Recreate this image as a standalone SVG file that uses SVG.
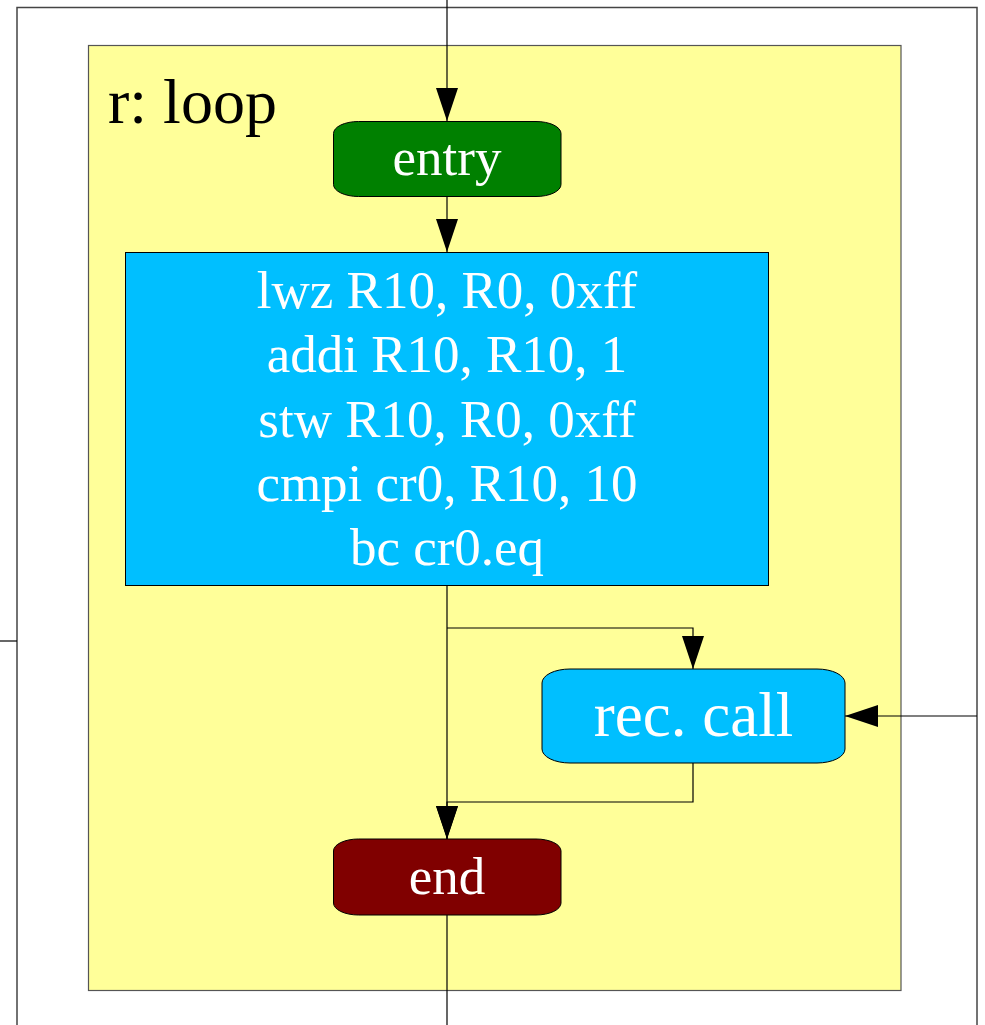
<svg xmlns="http://www.w3.org/2000/svg" width="985" height="1025" viewBox="0 0 985 1025">
<style>
.t{font-family:"Liberation Serif","Times New Roman",serif;text-anchor:middle;fill:#fff}
.e{fill:none;stroke:#000;stroke-width:1.2}
.n{stroke:#000;stroke-width:1}
</style>
<defs>
<marker id="ah" markerUnits="userSpaceOnUse" markerWidth="34" markerHeight="22" refX="33" refY="11" orient="auto" viewBox="0 0 34 22">
<path d="M0,0 L33,11 L0,22 Z" fill="#000"/>
</marker>
</defs>
<rect width="985" height="1025" fill="#fff"/>
<g id="outer">
<rect x="17" y="7.5" width="960" height="1100" fill="none" stroke="#444" stroke-width="1.5"/>
</g>
<g id="cluster_loop">
<rect x="88.5" y="45.5" width="812.5" height="945" fill="#ffff99" stroke="#555" stroke-width="1.2"/>
<text x="108" y="123" style="font-family:'Liberation Serif','Times New Roman',serif;font-size:64px;fill:#000">r: loop</text>
</g>
<g id="connectors">
<path class="e" d="M447,0 L447,121" marker-end="url(#ah)"/>
<path class="e" d="M447,197 L447,252" marker-end="url(#ah)"/>
<path class="e" d="M447,585 L447,839" marker-end="url(#ah)"/>
<path class="e" d="M447,628 L693,628 L693,669" marker-end="url(#ah)"/>
<path class="e" d="M693,763 L693,802 L447,802 L447,839" marker-end="url(#ah)"/>
<path class="e" d="M977,716 L845,716" marker-end="url(#ah)"/>
<path class="e" d="M0,641 L17,641"/>
<path class="e" d="M447,915 L447,1025"/>
</g>
<g id="entry">
<rect class="n" x="333.5" y="121.5" width="227.5" height="75" rx="25" ry="12" fill="#008000"/>
<text class="t" x="447" y="175" font-size="53">entry</text>
</g>
<g id="block">
<rect class="n" x="125.5" y="252.5" width="643" height="333" fill="#00bfff"/>
<text class="t" x="447" y="308" font-size="53">lwz R10, R0, 0xff</text>
<text class="t" x="447" y="372" font-size="53">addi R10, R10, 1</text>
<text class="t" x="447" y="437" font-size="53">stw R10, R0, 0xff</text>
<text class="t" x="447" y="501" font-size="53">cmpi cr0, R10, 10</text>
<text class="t" x="447" y="565" font-size="53">bc cr0.eq</text>
</g>
<g id="rec_call">
<rect class="n" x="542" y="669" width="303" height="94" rx="28" ry="14" fill="#00bfff"/>
<text class="t" x="693.5" y="736" font-size="63">rec. call</text>
</g>
<g id="end">
<rect class="n" x="333.5" y="839" width="227.5" height="76" rx="25" ry="12" fill="#800000"/>
<text class="t" x="447" y="894" font-size="53">end</text>
</g>
</svg>
